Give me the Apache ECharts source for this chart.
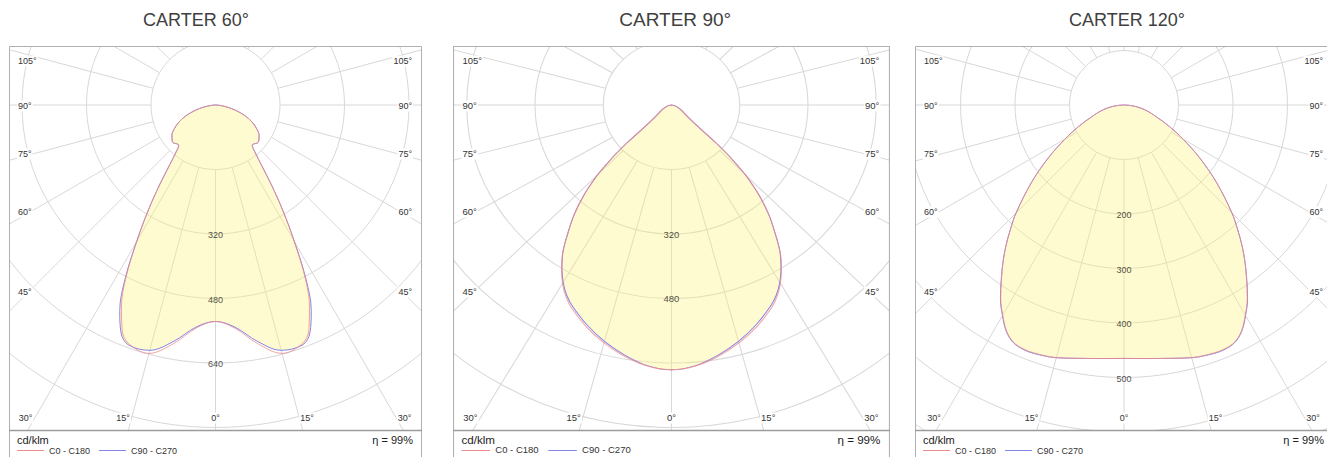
<!DOCTYPE html>
<html>
<head>
<meta charset="utf-8">
<title>CARTER</title>
<script src="https://cdn.jsdelivr.net/npm/echarts@6/dist/echarts.min.js"></script>
<style>
	html, body { margin: 0; padding: 0; background: #fff; overflow: hidden; }
	body { width: 1327px; height: 457px; position: relative; }
	.panel { position: absolute; top: 0; height: 457px; overflow: hidden; }
	#p60 { left: 9px; width: 413px; }
	/* the middle picture is a little wider than it is tall */
	#p90 { left: 453px; width: 413px; transform: scaleX(1.058); transform-origin: 0 0; }
	#p120 { left: 915px; width: 418px; }
</style>
</head>
<body>
<div id="p60" class="panel"></div>
<div id="p90" class="panel"></div>
<div id="p120" class="panel"></div>

<script>
	// angles from nadir (0 = straight down), intensities in cd/klm
	const angles60 = [0, 5, 10, 15, 20, 22.5, 25, 27.5, 30, 32.5, 35, 37.5, 40, 42.5, 45, 47.5, 50, 55, 60, 65, 70, 75, 80, 85, 90]
	const c0_60 = [537, 556, 601, 638, 630, 605, 552, 480, 390, 312, 242, 186, 152, 135, 136, 140, 140, 132, 118, 100, 78, 53, 29, 10, 0]
	const c90_60 = [537, 553, 595, 630, 633, 612, 562, 485, 392, 312, 242, 186, 152, 135, 136, 140, 140, 132, 118, 100, 78, 53, 29, 10, 0]
	const rings60 = [320, 480, 640]

	const angles90 = [0, 5, 10, 15, 20, 25, 27.5, 30, 32.5, 35, 37.5, 40, 42.5, 45, 46, 47, 48, 49, 50, 52, 55, 60, 70, 80, 90]
	const c0_90 = [657, 650, 633, 611, 585, 555, 536, 511, 480, 444, 398, 355, 305, 245, 212, 180, 140, 92, 68, 50, 38, 28, 14, 5, 0]
	const c90_90 = [657, 649, 630, 607, 580, 550, 532, 508, 478, 443, 398, 355, 305, 245, 212, 180, 140, 92, 68, 50, 38, 28, 14, 5, 0]
	const rings90 = [320, 480]

	const angles120 = [0, 5, 10, 15, 20, 22.5, 25, 27.5, 30, 32.5, 35, 37.5, 40, 42.5, 45, 50, 55, 60, 65, 70, 75, 80, 85, 90]
	const c0_120 = [465, 467, 472, 480, 484, 484, 480, 467, 445, 421, 392, 365, 337, 308, 280, 222, 170, 125, 90, 63, 46, 30, 14, 0]
	const c90_120 = [465, 467, 472, 480, 485, 485, 481, 468, 446, 422, 393, 365, 337, 308, 280, 222, 170, 125, 90, 63, 46, 30, 14, 0]
	const rings120 = [200, 300, 400, 500]

	const sideLabels = ['105°', '90°', '75°', '60°', '45°']
	const bottomLabels = ['30°', '15°', '0°', '15°', '30°']

	const FONT = 'Liberation Sans, Arial, Helvetica, sans-serif'
	const RED = '#f08c8c'
	const BLUE = '#8585e8'

	// one closed outline: right half (negative angles) then left half
	const outline = (angles, vals) => {
		let pts = []
		for (let i = angles.length - 1; i >= 0; i--) pts.push([vals[i], -angles[i]])
		for (let i = 1; i < angles.length; i++) pts.push([vals[i], angles[i]])
		return pts
	}

	const label = (text, x, y, align, size, color) => ({
		type: 'text',
		z: 101,
		style: {
			text: text, x: x, y: y, align: align, verticalAlign: 'middle',
			fontSize: size, fontFamily: FONT, fill: color || '#333'
		}
	})

	const makePanel = (id, title, titleX, angles, c0, c90, rings, step, stepPx, steps) => {
		const el = document.getElementById(id)
		const W = el.clientWidth
		const chart = echarts.init(el, null, { renderer: 'svg' })
		const cx = W / 2
		const cy = 105
		const rOut = stepPx * steps

		let graphic = [
			{ type: 'rect', z: 100, shape: { x: 0, y: 0, width: W, height: 46 }, style: { fill: '#fff' } },
			{ type: 'rect', z: 100, shape: { x: 0, y: 430, width: W, height: 40 }, style: { fill: '#fff' } },
			{ type: 'rect', z: 101, shape: { x: 0.5, y: 46.5, width: W - 1, height: 430 }, style: { fill: 'none', stroke: '#b0b0b0', lineWidth: 1 } },
			{ type: 'line', z: 101, shape: { x1: 0, y1: 430.5, x2: W, y2: 430.5 }, style: { stroke: '#9c9c9c', lineWidth: 1.3 } },
			label(title, titleX, 20, 'center', 18, '#404040'),
			label('cd/klm', 8, 440, 'left', 11, '#222'),
			label('η = 99%', W - 9, 440, 'right', 11, '#222')
		]

		const sideY = [61, 106, 154, 212, 292]
		const bottomX = [-190, -92.5, 0, 91.5, 189]
		let ticks = []
		sideLabels.forEach((t, i) => {
			ticks.push(label(t, 8, sideY[i], 'left', 9))
			ticks.push(label(t, W - 9, sideY[i], 'right', 9))
		})
		bottomLabels.forEach((t, i) => {
			ticks.push(label(t, cx + bottomX[i], 418, 'center', 9))
		})
		ticks.forEach(g => {
			g.style.backgroundColor = '#fff'
			g.style.padding = [1, 1]
		})
		graphic = graphic.concat(ticks)

		const hidden = {
			axisLine: { show: false },
			axisTick: { show: false },
			axisLabel: { show: false }
		}

		chart.setOption({
			animation: false,
			textStyle: { fontFamily: FONT },
			polar: [
				// grid: rings and spokes stop at the first ring
				{ center: [cx, cy], radius: [stepPx, rOut] },
				// data
				{ center: [cx, cy], radius: [0, rOut] }
			],
			angleAxis: [
				Object.assign({
					polarIndex: 0, type: 'value', min: -180, max: 180, interval: 15,
					startAngle: 90, clockwise: true,
					splitLine: { show: true, lineStyle: { color: '#d8d8d8', width: 1 } }
				}, hidden),
				Object.assign({
					polarIndex: 1, type: 'value', min: -180, max: 180,
					startAngle: 90, clockwise: true,
					splitLine: { show: false }
				}, hidden)
			],
			radiusAxis: [
				Object.assign({
					polarIndex: 0, type: 'value', min: step, max: step * steps, interval: step,
					splitLine: { show: true, lineStyle: { color: '#d8d8d8', width: 1 } }
				}, hidden),
				Object.assign({
					polarIndex: 1, type: 'value', min: 0, max: step * steps,
					splitLine: { show: false }
				}, hidden)
			],
			legend: {
				z: 102,
				left: 8,
				top: 446,
				padding: 0,
				itemWidth: 27,
				itemHeight: 1,
				itemGap: 9,
				icon: 'rect',
				selectedMode: false,
				textStyle: { fontSize: 9, color: '#333', fontFamily: FONT },
				data: [
					{ name: 'C0 - C180', itemStyle: { color: RED } },
					{ name: 'C90 - C270', itemStyle: { color: BLUE } }
				]
			},
			graphic: graphic,
			series: [{
				name: 'C90 - C270',
				type: 'line',
				coordinateSystem: 'polar',
				polarIndex: 1,
				data: outline(angles, c90),
				smooth: 0.35,
				symbol: 'none',
				lineStyle: { color: BLUE, width: 1 },
				itemStyle: { color: BLUE },
				areaStyle: { color: 'rgba(255, 244, 120, 0.5)' }
			}, {
				name: 'C0 - C180',
				type: 'line',
				coordinateSystem: 'polar',
				polarIndex: 1,
				data: outline(angles, c0),
				smooth: 0.35,
				symbol: 'none',
				lineStyle: { color: RED, width: 1, opacity: 0.8 },
				itemStyle: { color: RED }
			}, {
				type: 'scatter',
				coordinateSystem: 'polar',
				polarIndex: 1,
				silent: true,
				z: 10,
				symbolSize: 0,
				data: rings.map(v => [v, 0]),
				label: {
					show: true,
					position: 'inside',
					offset: [0, 1],
					formatter: p => p.value[0],
					color: '#1a1a1a',
					fontSize: 9,
					fontFamily: FONT
				}
			}]
		})
		return chart
	}

	makePanel('p60', 'CARTER 60°', 187, angles60, c0_60, c90_60, rings60, 160, 64.5, 7)
	makePanel('p90', 'CARTER 90°', 210, angles90, c0_90, c90_90, rings90, 160, 64.5, 7)
	makePanel('p120', 'CARTER 120°', 212, angles120, c0_120, c90_120, rings120, 100, 54.5, 8)
</script>
</body>
</html>
